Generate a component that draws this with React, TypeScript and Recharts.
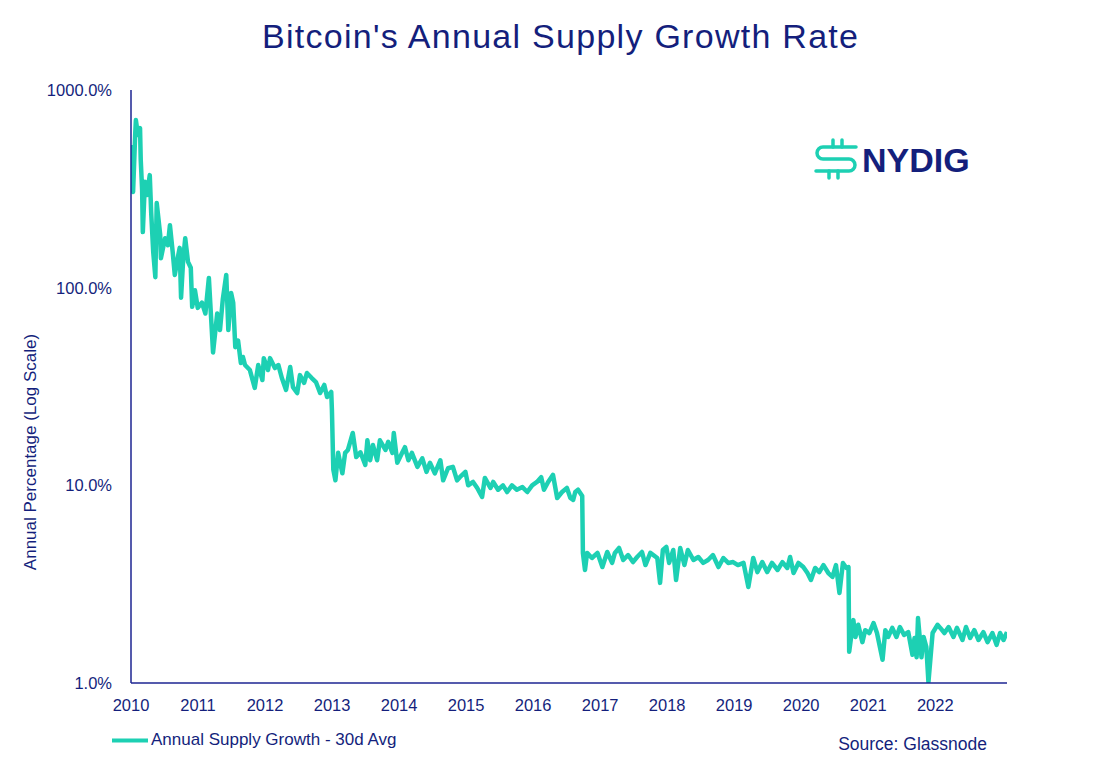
import React from 'react';
import { LineChart, Line, XAxis, YAxis, Legend } from 'recharts';

// Decimal-year dates and 30d-average annual supply growth (%)
const dates = [
  2010.05, 2010.08, 2010.11, 2010.12, 2010.15, 2010.18, 2010.19, 2010.21, 2010.22, 2010.25,
  2010.28, 2010.32, 2010.34, 2010.37, 2010.40, 2010.42, 2010.47, 2010.48, 2010.54, 2010.58,
  2010.61, 2010.65, 2010.68, 2010.73, 2010.75, 2010.77, 2010.80, 2010.83, 2010.87, 2010.91,
  2010.93, 2010.97, 2011.01, 2011.07, 2011.12, 2011.17, 2011.23, 2011.29, 2011.33, 2011.37,
  2011.42, 2011.45, 2011.49, 2011.52, 2011.55, 2011.59, 2011.63, 2011.66, 2011.69, 2011.76,
  2011.83, 2011.88, 2011.94, 2011.96, 2012.02, 2012.05, 2012.12, 2012.17, 2012.22, 2012.28,
  2012.34, 2012.38, 2012.44, 2012.48, 2012.54, 2012.58, 2012.65, 2012.71, 2012.77, 2012.83,
  2012.87, 2012.93, 2012.94, 2012.96, 2012.99, 2013.03, 2013.09, 2013.13, 2013.17, 2013.24,
  2013.29, 2013.35, 2013.42, 2013.45, 2013.49, 2013.53, 2013.59, 2013.63, 2013.71, 2013.75,
  2013.81, 2013.83, 2013.88, 2013.95, 2013.99, 2014.04, 2014.09, 2014.17, 2014.24, 2014.30,
  2014.35, 2014.42, 2014.50, 2014.54, 2014.61, 2014.68, 2014.74, 2014.78, 2014.86, 2014.90,
  2014.97, 2015.03, 2015.10, 2015.14, 2015.22, 2015.26, 2015.33, 2015.40, 2015.46, 2015.53,
  2015.60, 2015.68, 2015.75, 2015.82, 2015.89, 2015.95, 2015.99, 2016.05, 2016.12, 2016.18,
  2016.25, 2016.32, 2016.37, 2016.41, 2016.44, 2016.48, 2016.54, 2016.55, 2016.58, 2016.61,
  2016.68, 2016.76, 2016.83, 2016.90, 2016.97, 2017.01, 2017.07, 2017.13, 2017.20, 2017.27,
  2017.33, 2017.40, 2017.45, 2017.52, 2017.62, 2017.66, 2017.70, 2017.75, 2017.79, 2017.85,
  2017.89, 2017.95, 2018.01, 2018.06, 2018.14, 2018.21, 2018.28, 2018.35, 2018.42, 2018.50,
  2018.57, 2018.64, 2018.71, 2018.78, 2018.86, 2018.93, 2019.00, 2019.06, 2019.13, 2019.20,
  2019.27, 2019.35, 2019.42, 2019.49, 2019.53, 2019.58, 2019.65, 2019.72, 2019.78, 2019.83,
  2019.89, 2019.95, 2020.01, 2020.08, 2020.14, 2020.19, 2020.24, 2020.29, 2020.34, 2020.37,
  2020.38, 2020.44, 2020.47, 2020.51, 2020.57, 2020.61, 2020.67, 2020.73, 2020.78, 2020.86,
  2020.90, 2020.94, 2021.00, 2021.06, 2021.11, 2021.17, 2021.23, 2021.29, 2021.32, 2021.35,
  2021.37, 2021.42, 2021.45, 2021.49, 2021.52, 2021.58, 2021.65, 2021.69, 2021.75, 2021.81,
  2021.88, 2021.93, 2022.01, 2022.06, 2022.12, 2022.18, 2022.24, 2022.31, 2022.37, 2022.44,
  2022.50, 2022.55, 2022.60, 2022.65,
];

const growthPct = [
  527, 305, 592, 705, 592, 642, 443, 312, 191, 343,
  294, 371, 241, 151, 113, 268, 185, 141, 178, 164,
  207, 151, 116, 146, 159, 89, 138, 178, 135, 126,
  80, 97, 79, 84, 74, 112, 47, 74, 61, 87,
  116, 61, 94, 84, 50, 54, 41.6, 44.6, 40.6, 38.3,
  31.1, 40.6, 34.1, 44, 38.3, 44, 39.2, 40.6, 34.9, 30.4,
  39.7, 31.4, 29.3, 36.1, 33.0, 37.0, 34.9, 33.3, 29.3, 32.2,
  28.0, 29.7, 24.0, 12.0, 10.6, 14.6, 11.5, 14.6, 15.1, 18.4,
  13.9, 14.7, 12.7, 16.9, 13.4, 16.0, 13.4, 16.9, 15.1, 16.6,
  14.6, 18.4, 13.0, 14.6, 15.6, 13.4, 14.6, 12.4, 13.7, 11.7,
  13.0, 11.5, 13.4, 10.6, 12.2, 12.4, 10.6, 11.0, 11.7, 10.0,
  10.4, 9.7, 8.73, 10.9, 9.7, 10.4, 9.5, 10.0, 9.25, 10.0,
  9.5, 9.8, 9.25, 10.0, 10.4, 11.0, 9.5, 10.4, 11.3, 8.63,
  9.25, 9.7, 8.63, 8.43, 9.25, 9.5, 8.83, 4.55, 3.73, 4.55,
  4.29, 4.55, 3.86, 4.60, 4.05, 4.55, 4.82, 4.19, 4.44, 4.09,
  4.34, 4.60, 3.95, 4.55, 4.29, 3.21, 4.71, 4.88, 4.05, 4.71,
  3.32, 4.82, 3.95, 4.71, 4.19, 4.34, 4.05, 4.19, 4.44, 3.86,
  4.29, 4.05, 4.09, 3.95, 4.05, 3.06, 4.29, 3.64, 4.09, 3.64,
  4.05, 3.73, 4.09, 3.82, 4.34, 3.60, 4.05, 3.86, 3.60, 3.32,
  3.82, 3.64, 3.95, 3.60, 3.44, 3.95, 2.85, 4.05, 3.82, 3.86,
  1.44, 2.08, 1.71, 1.97, 1.61, 1.85, 1.79, 2.01, 1.79, 1.31,
  1.85, 1.71, 1.90, 1.71, 1.92, 1.75, 1.81, 1.39, 1.69, 1.35,
  2.13, 1.35, 1.71, 1.52, 1.01, 1.79, 1.97, 1.90, 1.79, 1.92,
  1.71, 1.90, 1.65, 1.92, 1.69, 1.85, 1.65, 1.81, 1.61, 1.79,
  1.56, 1.79, 1.65, 1.81,
];

const yearLabels = [
  '2010', '2011', '2012', '2013', '2014', '2015', '2016',
  '2017', '2018', '2019', '2020', '2021', '2022',
];
const yTickValues = [1, 10, 100, 1000];

// In the reference the year labels are evenly spaced, slightly narrower than a calendar year
const xDomain: [number, number] = [2010.05, 2022.65];
const labelStep = 0.964;
const xTickValues = yearLabels.map((_, i) => +(xDomain[0] + i * labelStep).toFixed(3));

const data = dates.map((d, i) => ({ date: d, growth: growthPct[i] }));

const NAVY = '#141f7c';
const AXIS = '#1c2592';
const TEAL = '#1dd0b3';
const FONT = '"Liberation Sans", Arial, Helvetica, sans-serif';

const XTick = (props: any) => {
  const { x, y, index } = props;
  return (
    <text x={x} y={y + 28} textAnchor="middle" fontSize={16.5} fill={NAVY} fontFamily={FONT}>
      {yearLabels[index]}
    </text>
  );
};

const YTick = (props: any) => {
  const { x, y, payload } = props;
  return (
    <text x={x - 19} y={y + 6} textAnchor="end" fontSize={16.5} fill={NAVY} fontFamily={FONT}>
      {`${Number(payload.value).toFixed(1)}%`}
    </text>
  );
};

const LegendContent = () => (
  <svg width={320} height={24} style={{ display: 'block' }}>
    <line x1={8} x2={44} y1={12.5} y2={12.5} stroke={TEAL} strokeWidth={4} />
    <text x={47} y={17} fontSize={17} fill={NAVY} fontFamily={FONT}>
      Annual Supply Growth - 30d Avg
    </text>
  </svg>
);

export default function App() {
  return (
    <div style={{ position: 'absolute', left: 0, top: 0, width: 1120, height: 778, background: '#fff' }}>
      <LineChart
        width={1120}
        height={778}
        data={data}
        margin={{ top: 90, right: 113, bottom: 65, left: 51 }}
      >
        <XAxis
          dataKey="date"
          type="number"
          domain={xDomain}
          allowDataOverflow
          ticks={xTickValues}
          interval={0}
          tick={<XTick />}
          tickLine={false}
          tickSize={0}
          tickMargin={0}
          height={30}
          axisLine={{ stroke: AXIS, strokeWidth: 1.5 }}
        />
        <YAxis
          scale="log"
          domain={[1, 1000]}
          allowDataOverflow
          ticks={yTickValues}
          interval={0}
          tick={<YTick />}
          tickLine={false}
          tickSize={0}
          tickMargin={0}
          width={80}
          axisLine={{ stroke: AXIS, strokeWidth: 1.5 }}
        />
        <Legend
          layout="horizontal"
          verticalAlign="middle"
          align="center"
          content={<LegendContent />}
          wrapperStyle={{ left: 104, top: 728, width: 320, height: 24 }}
        />
        <Line
          type="linear"
          dataKey="growth"
          name="Annual Supply Growth - 30d Avg"
          stroke={TEAL}
          strokeWidth={4.5}
          strokeLinejoin="round"
          dot={false}
          activeDot={false}
          isAnimationActive={false}
        />
      </LineChart>
      <svg
        width={1120}
        height={778}
        style={{ position: 'absolute', left: 0, top: 0, pointerEvents: 'none' }}
      >
        <text
          x={560}
          y={48}
          textAnchor="middle"
          fontSize={34}
          fill={NAVY}
          fontFamily={FONT}
          textLength={596}
          lengthAdjust="spacing"
        >
          Bitcoin's Annual Supply Growth Rate
        </text>
        <text
          transform="translate(36,452) rotate(-90)"
          textAnchor="middle"
          fontSize={17}
          fill={NAVY}
          fontFamily={FONT}
        >
          Annual Percentage (Log Scale)
        </text>
        <text x={987} y={750} textAnchor="end" fontSize={17.5} fill={NAVY} fontFamily={FONT}>
          Source: Glassnode
        </text>
        <g fill="none" stroke={TEAL} strokeWidth={3.5} strokeLinecap="round" strokeLinejoin="round">
          <path d="M 856 147 H 823 A 6 6 0 0 0 823 159 H 849 A 6 6 0 0 1 849 171 H 816" />
          <path d="M 833 140 V 147 M 842 140 V 147 M 829 171 V 178 M 838 171 V 178" />
        </g>
        <text x={862} y={172} fontSize={34} fontWeight="bold" fill={NAVY} fontFamily={FONT}>
          NYDIG
        </text>
      </svg>
    </div>
  );
}
